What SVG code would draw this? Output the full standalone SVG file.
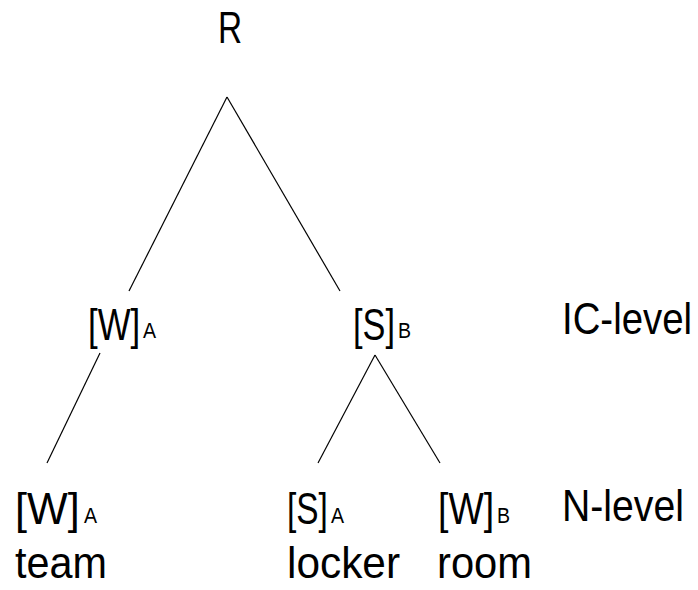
<svg xmlns="http://www.w3.org/2000/svg" width="698" height="590" viewBox="0 0 698 590">
<style>
text{font-family:"Liberation Sans",Arial,sans-serif;fill:#000}
.m{font-size:44px}
.s{font-size:22px}
line{stroke:#000;stroke-width:1.2}
</style>
<rect width="698" height="590" fill="#fff"/>
<g id="connectors">
<line x1="227" y1="97" x2="129" y2="291"/>
<line x1="227" y1="97" x2="340" y2="291"/>
<line x1="100" y1="353" x2="47" y2="463"/>
<line x1="375" y1="355" x2="318" y2="463"/>
<line x1="375" y1="355" x2="440" y2="463"/>
</g>
<g id="R"><text class="m" transform="translate(218,43) scale(0.76,1)">R</text></g>
<g id="icW"><text class="m" transform="translate(88,340) scale(0.79,1)">[W]</text><text class="s" transform="translate(143,338) scale(0.89,1)">A</text></g>
<g id="icS"><text class="m" transform="translate(353,340) scale(0.78,1)">[S]</text><text class="s" transform="translate(398,338) scale(0.89,1)">B</text></g>
<g id="nW"><text class="m" transform="translate(15,524) scale(0.98,1)">[W]</text><text class="s" transform="translate(84,523) scale(0.89,1)">A</text><text class="m" transform="translate(15,578) scale(0.94,1)">team</text></g>
<g id="nS"><text class="m" transform="translate(287,524) scale(0.76,1)">[S]</text><text class="s" transform="translate(331,523) scale(0.89,1)">A</text><text class="m" transform="translate(287,578) scale(0.963,1)">locker</text></g>
<g id="nW2"><text class="m" transform="translate(438,524) scale(0.85,1)">[W]</text><text class="s" transform="translate(497,523) scale(0.89,1)">B</text><text class="m" transform="translate(437,578) scale(0.948,1)">room</text></g>
<g id="levels"><text class="m" transform="translate(562,334) scale(0.872,1)">IC-level</text><text class="m" transform="translate(562,521) scale(0.891,1)">N-level</text></g>
</svg>
